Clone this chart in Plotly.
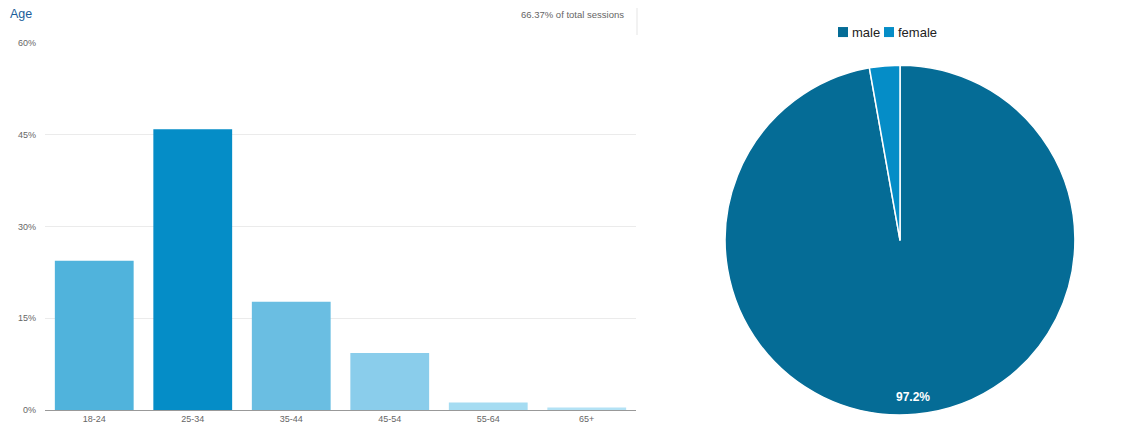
import plotly.graph_objects as go

age_groups = ["18-24", "25-34", "35-44", "45-54", "55-64", "65+"]
age_share = [24.4, 45.9, 17.7, 9.3, 1.2, 0.4]
age_colors = ["#50B3DC", "#058DC7", "#6ABEE2", "#8ACDEB", "#A5DCF2", "#B3E2F5"]

gender_labels = ["male", "female"]
gender_share = [97.2, 2.8]
gender_colors = ["#056C96", "#058DC7"]

y_ticks = [0, 15, 30, 45, 60]
y_tick_labels = ["0%", "15%", "30%", "45%", "60%"]

W, H = 1131, 427
# screen placement calibration (page offset / effective height)
OX, OY, HE = 8, 13, 416


def px(X):
    return (X - OX) / W


def py(Y):
    return 1 - (Y - OY) / HE


fig = go.Figure()
fig.add_trace(go.Bar(
    x=age_groups, y=age_share,
    marker=dict(color=age_colors, line=dict(width=0)),
    showlegend=False, hoverinfo="x+y",
))
fig.add_trace(go.Pie(
    labels=gender_labels, values=gender_share,
    marker=dict(colors=gender_colors, line=dict(color="white", width=1.5)),
    textinfo="none",
    sort=False, direction="clockwise", rotation=0,
    domain=dict(x=[px(725), px(1075)], y=[py(414), py(65)]),
    showlegend=False,
))

annotations = [
    dict(text="Age", x=0, y=py(14), xref="paper", yref="paper",
         xanchor="left", yanchor="middle", showarrow=False,
         font=dict(size=12.5, color="#1A5E9A")),
    dict(text="66.37% of total sessions", x=px(626), y=py(14),
         xref="paper", yref="paper", xanchor="right", yanchor="middle",
         showarrow=False, font=dict(size=9.5, color="#666")),
    dict(text="<b>%.1f%%</b>" % gender_share[0], x=px(913), y=py(396),
         xref="paper", yref="paper", xanchor="center", yanchor="middle",
         showarrow=False, font=dict(size=12, color="white")),
]
shapes = [
    dict(type="line", xref="paper", yref="paper",
         x0=px(637), x1=px(637), y0=py(35), y1=py(-5),
         line=dict(color="#E5E5E5", width=1)),
]

# custom legend
legend_x = [838, 884]
for lab, col, lx in zip(gender_labels, gender_colors, legend_x):
    shapes.append(dict(type="rect", xref="paper", yref="paper",
                       x0=px(lx), x1=px(lx + 10), y0=py(37), y1=py(27),
                       fillcolor=col, line=dict(width=0)))
    annotations.append(dict(text=lab, x=px(lx + 12), y=py(32),
                            xref="paper", yref="paper", xanchor="left",
                            yanchor="middle", showarrow=False,
                            font=dict(size=13, color="#222")))

fig.update_layout(
    width=W, height=H,
    margin=dict(l=0, r=0, t=0, b=0),
    paper_bgcolor="white", plot_bgcolor="white",
    font=dict(family="Arial, Liberation Sans", color="#666"),
    bargap=0.2,
    showlegend=False,
    xaxis=dict(
        domain=[px(45), px(636)],
        showline=True, linecolor="#999", linewidth=1,
        showgrid=False, ticks="", fixedrange=True,
        tickfont=dict(size=9, color="#666"),
    ),
    yaxis=dict(
        domain=[py(409), py(43)],
        range=[0, 60], tickvals=y_ticks, ticktext=y_tick_labels,
        showgrid=True, gridcolor="#EBEBEB", gridwidth=1,
        zeroline=False, showline=False, ticks="",
        tickfont=dict(size=9, color="#666"),
        ticklabelstandoff=8,
    ),
    annotations=annotations,
    shapes=shapes,
)

fig.write_html("out.html")
